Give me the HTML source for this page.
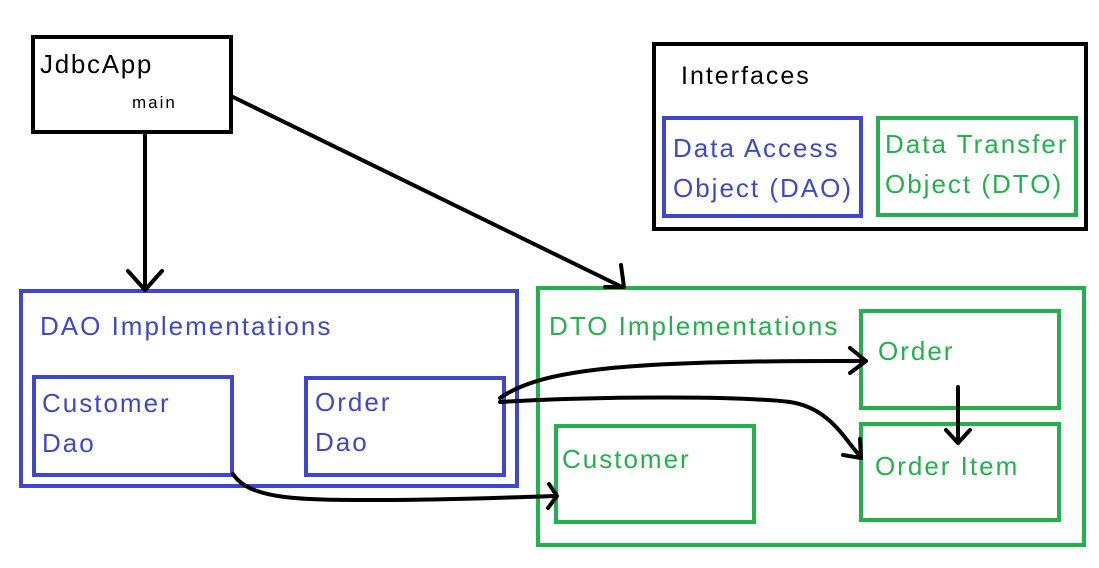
<!DOCTYPE html>
<html><head><style>
body{margin:0;width:1099px;height:568px;background:#fff;overflow:hidden;position:relative;font-family:"Liberation Sans","DejaVu Sans",sans-serif}
.b{position:absolute;box-sizing:border-box;border:4px solid}
.k{border-color:#000}.u{border-color:#3f48cc;color:#3f48cc}.g{border-color:#22b14c;color:#22b14c}
.t{position:absolute;font-size:26px;line-height:40px;white-space:nowrap;letter-spacing:2px}
</style></head><body>
<div class="b k" style="left:31px;top:35px;width:202px;height:99px"></div>
<div class="t" style="left:40px;top:44px;color:#000;letter-spacing:1.7px">JdbcApp</div>
<div class="t" style="left:132px;top:83px;font-size:17px;color:#000">main</div>
<div class="b k" style="left:652px;top:42px;width:436px;height:189px"></div>
<div class="t" style="left:681px;top:56px;font-size:25px;color:#000">Interfaces</div>
<div class="b u" style="left:662px;top:116px;width:201px;height:102px"></div>
<div class="t" style="left:673px;top:128px;color:#3f48cc">Data Access<br>Object (DAO)</div>
<div class="b g" style="left:876px;top:116px;width:202px;height:101px"></div>
<div class="t" style="left:885px;top:124px;color:#22b14c">Data Transfer<br>Object (DTO)</div>
<div class="b u" style="left:19px;top:289px;width:500px;height:199px"></div>
<div class="t" style="left:40px;top:306px;color:#3f48cc">DAO Implementations</div>
<div class="b u" style="left:32px;top:375px;width:202px;height:102px"></div>
<div class="t" style="left:42px;top:383px;color:#3f48cc">Customer<br>Dao</div>
<div class="b u" style="left:304px;top:376px;width:202px;height:101px"></div>
<div class="t" style="left:315px;top:382px;color:#3f48cc">Order<br>Dao</div>
<div class="b g" style="left:536px;top:286px;width:550px;height:261px"></div>
<div class="t" style="left:549px;top:306px;color:#22b14c">DTO Implementations</div>
<div class="b g" style="left:859px;top:309px;width:202px;height:101px"></div>
<div class="t" style="left:878px;top:331px;color:#22b14c">Order</div>
<div class="b g" style="left:554px;top:424px;width:202px;height:100px"></div>
<div class="t" style="left:562px;top:439px;color:#22b14c">Customer</div>
<div class="b g" style="left:859px;top:422px;width:202px;height:100px"></div>
<div class="t" style="left:875px;top:446px;color:#22b14c">Order Item</div>
<svg width="1099" height="568" style="position:absolute;left:0;top:0" fill="none" stroke="#000" stroke-width="4" stroke-linecap="round" stroke-linejoin="round">
<path d="M145 133V290M128 271L145 290L162 271"/>
<path d="M233 97L622 287M605 287H624L621 265"/>
<path d="M958 387V443M946 430L958 443L970 430"/>
<path d="M233 474C250 500 300 500 380 500C450 500 520 497 555 496M549 484L557 496L548 508"/>
<path d="M500 398C540 370 620 360 866 361M850 348L866 361L850 373"/>
<path d="M500 402C600 396 740 396 790 402C830 408 845 440 860 456M843 455L861 458L860 439"/>
</svg>
</body></html>
